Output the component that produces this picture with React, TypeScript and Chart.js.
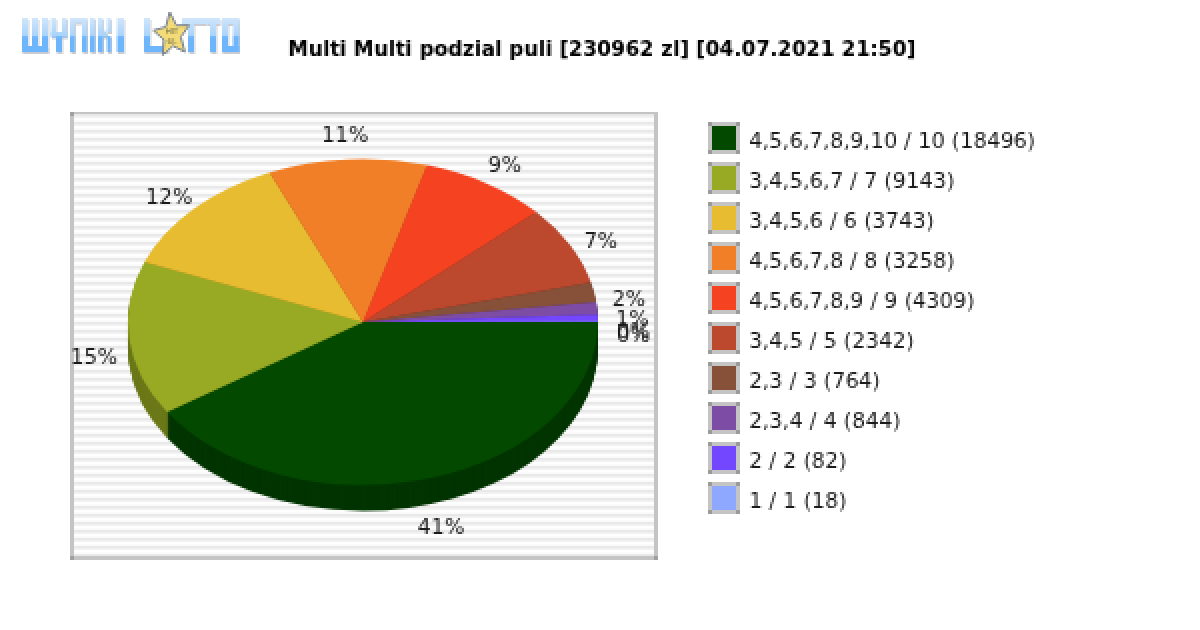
import { useEffect, useRef } from 'react';
import { Chart, registerables } from 'chart.js';

Chart.register(...registerables);

const title = 'Multi Multi podzial puli [230962 zl] [04.07.2021 21:50]';

const legendLabels = [
  '4,5,6,7,8,9,10 / 10 (18496)',
  '3,4,5,6,7 / 7 (9143)',
  '3,4,5,6 / 6 (3743)',
  '4,5,6,7,8 / 8 (3258)',
  '4,5,6,7,8,9 / 9 (4309)',
  '3,4,5 / 5 (2342)',
  '2,3 / 3 (764)',
  '2,3,4 / 4 (844)',
  '2 / 2 (82)',
  '1 / 1 (18)',
];
// share of the pool in percent
const shares = [40.7, 15.3, 12.5, 10.9, 8.8, 7.9, 1.95, 1.2, 0.7, 0.05];
const percentLabels = ['41%', '15%', '12%', '11%', '9%', '7%', '2%', '1%', '0%', '0%'];
const topColors = ['#034a00', '#98aa23', '#e8bc30', '#f07f28', '#f54322', '#bc482e', '#875038', '#7d4da6', '#7346ff', '#8ea8ff'];
const wallColors = ['#023400', '#6b7818', '#a28421', '#a8591c', '#ab2f18', '#843220', '#5e3827', '#573674', '#5031b2', '#6376b2'];

const FONT = '"DejaVu Sans"';
const SQUASH = 163 / 235;
const DEPTH = 26;

const drawFrame = (ctx: CanvasRenderingContext2D) => {
  // striped plot background
  const stripes = ['#e8e8e8', '#f1f1f1', '#ffffff', '#fbfbfb'];
  for (let y = 114, i = 0; y < 556; y += 2, i++) {
    ctx.fillStyle = stripes[i % stripes.length];
    ctx.fillRect(72, y, 584, 2);
  }
  ctx.fillStyle = '#c4c4c4';
  ctx.fillRect(70, 112, 588, 2);
  ctx.fillRect(70, 112, 4, 448);
  ctx.fillRect(654, 112, 4, 448);
  ctx.fillRect(70, 556, 588, 4);
  ctx.fillStyle = '#a0a0a0';
  ctx.fillRect(70, 112, 4, 4);
  ctx.fillRect(654, 556, 4, 4);
  ctx.fillRect(70, 556, 4, 4);
};

// blocky logo strokes: x, y, w, h
const logoBars = [
  // W
  [22, 18, 6, 34], [32, 18, 6, 34], [42, 18, 6, 34], [22, 46, 26, 6],
  // Y
  [51, 18, 5, 18], [62, 18, 5, 18], [51, 32, 16, 5], [56, 32, 6, 20],
  // N
  [70, 18, 5, 34], [82, 18, 5, 34], [70, 18, 17, 5],
  // I
  [90, 18, 5, 34],
  // K
  [98, 18, 5, 34], [103, 31, 4, 6], [107, 18, 4, 14], [107, 36, 4, 16],
  // I
  [117, 18, 7, 34],
  // L
  [144, 18, 6, 34], [144, 46, 24, 6],
  // T T
  [182, 18, 24, 6], [188, 18, 6, 34], [206, 18, 14, 6], [210, 18, 6, 34],
  // O
  [222, 18, 6, 34], [233, 18, 6, 34], [222, 18, 17, 6], [222, 46, 17, 6],
];

const drawLogo = (ctx: CanvasRenderingContext2D) => {
  const grad = ctx.createLinearGradient(0, 18, 0, 52);
  grad.addColorStop(0, '#d0e6fb');
  grad.addColorStop(0.55, '#a6d2fc');
  grad.addColorStop(0.56, '#6db6fd');
  grad.addColorStop(1, '#6db6fd');
  ctx.fillStyle = '#c9cdd2';
  logoBars.forEach(([x, y, w, h]) => ctx.fillRect(x + 1, y + 2, w, h));
  ctx.fillStyle = grad;
  logoBars.forEach(([x, y, w, h]) => ctx.fillRect(x, y, w, h));

  // star
  const cx = 172;
  const cy = 35;
  ctx.beginPath();
  for (let i = 0; i < 10; i++) {
    const a = -Math.PI / 2 - 0.12 + (i * Math.PI) / 5;
    const r = i % 2 === 0 ? 23 : 11;
    ctx.lineTo(cx + 0.82 * r * Math.cos(a), cy + r * Math.sin(a));
  }
  ctx.closePath();
  ctx.fillStyle = '#f3dc78';
  ctx.fill();
  ctx.strokeStyle = '#7d8794';
  ctx.lineWidth = 2;
  ctx.stroke();
  ctx.fillStyle = '#6d6a45';
  ctx.font = `8px ${FONT}`;
  ctx.textAlign = 'center';
  ctx.textBaseline = 'middle';
  ctx.fillText('HIT', cx, cy - 4);
  ctx.fillText('6L', cx, cy + 7);
};

const pieDecor = {
  id: 'pieDecor',
  beforeDraw(chart: any) {
    const ctx = chart.ctx;
    ctx.save();
    ctx.fillStyle = '#ffffff';
    ctx.fillRect(0, 0, chart.width, chart.height);
    drawFrame(ctx);
    drawLogo(ctx);
    ctx.restore();
  },
  beforeDatasetDraw(chart: any) {
    const ctx = chart.ctx;
    const arcs = chart.getDatasetMeta(0).data;
    // side wall of the pie: the same sectors pushed down
    for (let k = DEPTH; k > 0; k -= 2) {
      arcs.forEach((arc: any, i: number) => {
        const { x, y, outerRadius, startAngle, endAngle } = arc.getProps(['x', 'y', 'outerRadius', 'startAngle', 'endAngle']);
        ctx.save();
        ctx.translate(x, y + k);
        ctx.scale(1, SQUASH);
        ctx.beginPath();
        ctx.moveTo(0, 0);
        ctx.arc(0, 0, outerRadius, startAngle, endAngle);
        ctx.closePath();
        ctx.fillStyle = wallColors[i];
        ctx.fill();
        ctx.restore();
      });
    }
    // the library's arcs get squashed into an ellipse
    const { x, y } = arcs[0];
    ctx.save();
    ctx.translate(x, y);
    ctx.scale(1, SQUASH);
    ctx.translate(-x, -y);
  },
  afterDatasetDraw(chart: any) {
    chart.ctx.restore();
  },
  afterDraw(chart: any) {
    const ctx = chart.ctx;
    const arcs = chart.getDatasetMeta(0).data;
    ctx.save();
    ctx.textBaseline = 'middle';

    ctx.fillStyle = '#1a1a1a';
    ctx.font = `21.2px ${FONT}`;
    ctx.textAlign = 'center';
    arcs.forEach((arc: any, i: number) => {
      const { x, y, outerRadius, startAngle, endAngle } = arc.getProps(['x', 'y', 'outerRadius', 'startAngle', 'endAngle']);
      const mid = (startAngle + endAngle) / 2;
      const lx = x + Math.cos(mid) * outerRadius * 1.15;
      const ly = y + Math.sin(mid) * outerRadius * SQUASH * 1.15 + 15 + 13 * Math.sin(mid);
      ctx.fillText(percentLabels[i], lx, ly);
    });

    // legend
    ctx.textAlign = 'left';
    legendLabels.forEach((label, i) => {
      const top = 122 + i * 40;
      ctx.fillStyle = '#c4c4c4';
      ctx.fillRect(708, top, 32, 32);
      ctx.fillStyle = '#9a9a9a';
      [[708, top], [736, top], [708, top + 28], [736, top + 28]].forEach(([a, b]) => ctx.fillRect(a, b, 4, 4));
      ctx.fillStyle = topColors[i];
      ctx.fillRect(712, top + 4, 24, 24);
      ctx.fillStyle = '#1a1a1a';
      ctx.fillText(label, 749, top + 20);
    });

    // title
    ctx.fillStyle = '#000000';
    ctx.font = `bold 20.4px ${FONT}`;
    ctx.textAlign = 'left';
    ctx.fillText(title, 288, 50);
    ctx.restore();
  },
};

export default function App() {
  const canvasRef = useRef(null as HTMLCanvasElement | null);

  useEffect(() => {
    if (!canvasRef.current) return;
    const chart = new Chart(canvasRef.current, {
      type: 'pie',
      data: {
        labels: legendLabels,
        datasets: [{ data: shares, backgroundColor: topColors, borderWidth: 0 }],
      },
      options: {
        animation: false,
        responsive: false,
        devicePixelRatio: 0.5,
        rotation: 90,
        layout: { padding: { left: 128, right: 602, top: 87, bottom: 73 } },
        plugins: { legend: { display: false }, tooltip: { enabled: false } },
      },
      plugins: [pieDecor],
    } as any);
    return () => chart.destroy();
  }, []);

  return (
    <div style={{ position: 'absolute', left: 0, top: 0, width: 1200, height: 630 }}>
      <canvas ref={canvasRef} width={1200} height={630} style={{ display: 'block', width: 1200, height: 630, imageRendering: 'pixelated' }} />
    </div>
  );
}
